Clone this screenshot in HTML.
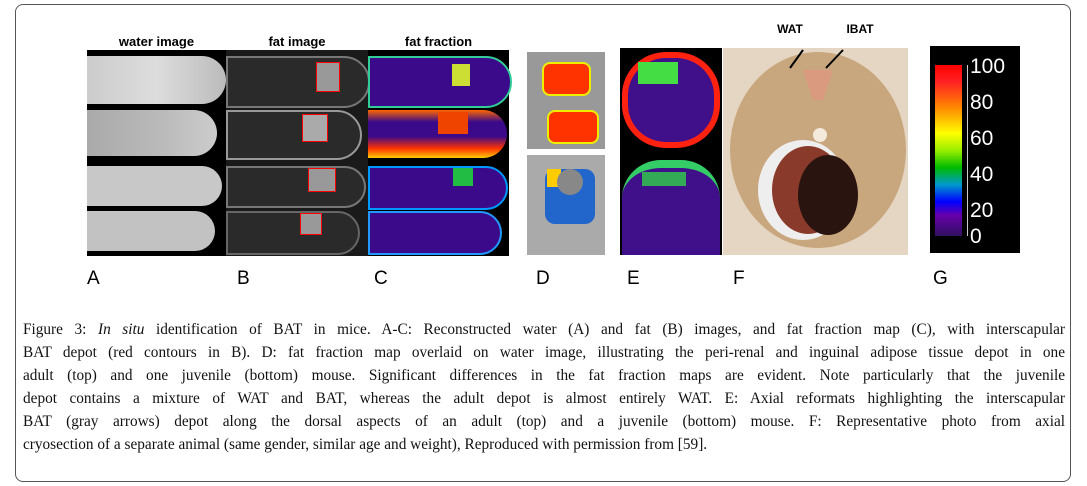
<!DOCTYPE html>
<html><head><style>
body{margin:0;width:1087px;height:486px;background:#fff;position:relative;overflow:hidden;font-family:"Liberation Sans",sans-serif}
.box{position:absolute;left:15px;top:4px;width:1056px;height:478px;border:1.5px solid #555;border-radius:8px;box-sizing:border-box}
.p{position:absolute}
.h{position:absolute;font-weight:bold;font-size:13px;text-align:center}
.l{position:absolute;top:268px;font-size:19px}
.cap{position:absolute;left:23px;top:318px;width:1042px;font-family:"Liberation Serif",serif;font-size:15.3px;line-height:23px;color:#111}
.cap div{text-align:justify;text-align-last:justify;white-space:nowrap;height:23px}
.cap div.last{text-align-last:left}
.n{position:absolute;left:40px;color:#fff;font-size:21px;line-height:21px}
</style></head><body>
<div class="box"></div>
<div class="h" style="left:87px;width:139px;top:34px">water image</div>
<div class="h" style="left:226px;width:142px;top:34px">fat image</div>
<div class="h" style="left:368px;width:141px;top:34px">fat fraction</div>
<!-- A -->
<div class="p" style="left:87px;top:50px;width:139px;height:206px;background:#000">
<div class="p" style="left:0;top:6px;width:139px;height:48px;background:linear-gradient(90deg,#ccc,#ddd 50%,#bbb);border-radius:0 30px 30px 0"></div>
<div class="p" style="left:0;top:60px;width:130px;height:46px;background:linear-gradient(90deg,#aaa,#bbb 60%,#ccc);border-radius:0 30px 30px 0"></div>
<div class="p" style="left:0;top:116px;width:135px;height:40px;background:#c8c8c8;border-radius:0 25px 25px 0"></div>
<div class="p" style="left:0;top:161px;width:128px;height:40px;background:#c2c2c2;border-radius:0 25px 25px 0"></div>
</div>
<!-- B -->
<div class="p" style="left:226px;top:50px;width:142px;height:206px;background:#1a1a1a">
<div class="p" style="left:0;top:6px;width:140px;height:48px;background:#2a2a2a;border:2px solid #777;border-radius:0 30px 30px 0"></div>
<div class="p" style="left:90px;top:12px;width:22px;height:28px;background:#999;border:1px solid red"></div>
<div class="p" style="left:0;top:60px;width:132px;height:46px;background:#2a2a2a;border:2px solid #999;border-radius:0 30px 30px 0"></div>
<div class="p" style="left:76px;top:64px;width:24px;height:26px;background:#aaa;border:1px solid red"></div>
<div class="p" style="left:0;top:116px;width:136px;height:38px;background:#2a2a2a;border:2px solid #777;border-radius:0 25px 25px 0"></div>
<div class="p" style="left:82px;top:118px;width:26px;height:22px;background:#999;border:1px solid red"></div>
<div class="p" style="left:0;top:161px;width:130px;height:40px;background:#2a2a2a;border:2px solid #666;border-radius:0 25px 25px 0"></div>
<div class="p" style="left:74px;top:163px;width:20px;height:20px;background:#999;border:1px solid red"></div>
</div>
<!-- C -->
<div class="p" style="left:368px;top:50px;width:141px;height:206px;background:#000">
<div class="p" style="left:0;top:6px;width:140px;height:48px;background:#3a0a8a;border:2px solid #3c9;border-radius:0 30px 30px 0"></div>
<div class="p" style="left:84px;top:14px;width:18px;height:22px;background:#cd3"></div>
<div class="p" style="left:0;top:60px;width:139px;height:48px;background:linear-gradient(180deg,#f60,#3a0a8a 25%,#3a0a8a 55%,#f30 80%,#fc0);border-radius:0 30px 30px 0"></div>
<div class="p" style="left:70px;top:62px;width:30px;height:22px;background:#e40"></div>
<div class="p" style="left:0;top:116px;width:136px;height:40px;background:#3a0a8a;border:2px solid #09f;border-radius:0 25px 25px 0"></div>
<div class="p" style="left:85px;top:118px;width:20px;height:18px;background:#2b4"></div>
<div class="p" style="left:0;top:161px;width:130px;height:40px;background:#3a0a8a;border:2px solid #29f;border-radius:0 25px 25px 0"></div>
</div>
<!-- D -->
<div class="p" style="left:527px;top:52px;width:78px;height:97px;background:#999">
<div class="p" style="left:15px;top:10px;width:45px;height:30px;background:#f30;border:2px solid #ee0;border-radius:8px"></div>
<div class="p" style="left:20px;top:58px;width:48px;height:30px;background:#f30;border:2px solid #ee0;border-radius:8px"></div>
</div>
<div class="p" style="left:527px;top:155px;width:78px;height:100px;background:#aaa">
<div class="p" style="left:18px;top:14px;width:50px;height:55px;background:#26c;border-radius:10px"></div>
<div class="p" style="left:20px;top:14px;width:14px;height:18px;background:#fc0"></div>
<div class="p" style="left:30px;top:14px;width:26px;height:26px;background:#888;border-radius:50%"></div>
</div>
<!-- E -->
<div class="p" style="left:620px;top:48px;width:102px;height:207px;background:#000">
<div class="p" style="left:2px;top:4px;width:98px;height:96px;border-radius:45%;background:#40108a;border:6px solid #f21;box-sizing:border-box"></div>
<div class="p" style="left:18px;top:14px;width:40px;height:22px;background:#4d4"></div>
<div class="p" style="left:2px;top:112px;width:98px;height:95px;border-radius:40% 40% 0 0;background:#40108a;border-top:8px solid #3c6;box-sizing:border-box"></div>
<div class="p" style="left:22px;top:124px;width:44px;height:14px;background:#3a5"></div>
</div>
<!-- F -->
<div class="h" style="left:770px;top:22px;width:40px;font-size:12px">WAT</div>
<div class="h" style="left:840px;top:22px;width:40px;font-size:12px">IBAT</div>
<svg class="p" style="left:723px;top:30px" width="190" height="226">
<rect x="0" y="18" width="185" height="207" fill="#e4d6c2"/>
<ellipse cx="95" cy="120" rx="88" ry="98" fill="#c9a77e"/>
<ellipse cx="80" cy="160" rx="45" ry="50" fill="#eee"/>
<ellipse cx="85" cy="160" rx="36" ry="44" fill="#8a3a2a"/>
<ellipse cx="105" cy="165" rx="30" ry="40" fill="#2a1410"/>
<circle cx="97" cy="105" r="7" fill="#f4eadc"/>
<polygon points="80,40 110,40 100,70 90,70" fill="#d99a80"/>
<line x1="80" y1="20" x2="67" y2="38" stroke="#000" stroke-width="2"/>
<line x1="120" y1="20" x2="103" y2="38" stroke="#000" stroke-width="2"/>
</svg>
<!-- G -->
<div class="p" style="left:930px;top:46px;width:90px;height:207px;background:#000">
<div class="p" style="left:5px;top:19px;width:27px;height:171px;background:linear-gradient(180deg,#f00,#f22 10%,#f80 25%,#ff0 40%,#9e0 50%,#0b0 60%,#09c 70%,#00f 80%,#60a 88%,#301060)"></div>
<div class="p" style="left:37px;top:19px;width:1px;height:171px;background:#ccc"></div>
<div class="n" style="top:10px">100</div>
<div class="n" style="top:46px">80</div>
<div class="n" style="top:82px">60</div>
<div class="n" style="top:118px">40</div>
<div class="n" style="top:154px">20</div>
<div class="n" style="top:180px">0</div>
</div>
<div class="l" style="left:87px">A</div>
<div class="l" style="left:237px">B</div>
<div class="l" style="left:374px">C</div>
<div class="l" style="left:536px">D</div>
<div class="l" style="left:627px">E</div>
<div class="l" style="left:733px">F</div>
<div class="l" style="left:933px">G</div>
<div class="cap">
<div>Figure 3: <i>In situ</i> identification of BAT in mice. A-C: Reconstructed water (A) and fat (B) images, and fat fraction map (C), with interscapular</div>
<div>BAT depot (red contours in B). D: fat fraction map overlaid on water image, illustrating the peri-renal and inguinal adipose tissue depot in one</div>
<div>adult (top) and one juvenile (bottom) mouse. Significant differences in the fat fraction maps are evident. Note particularly that the juvenile</div>
<div>depot contains a mixture of WAT and BAT, whereas the adult depot is almost entirely WAT. E: Axial reformats highlighting the interscapular</div>
<div>BAT (gray arrows) depot along the dorsal aspects of an adult (top) and a juvenile (bottom) mouse. F: Representative photo from axial</div>
<div class="last">cryosection of a separate animal (same gender, similar age and weight), Reproduced with permission from [59].</div>
</div>
</body></html>
